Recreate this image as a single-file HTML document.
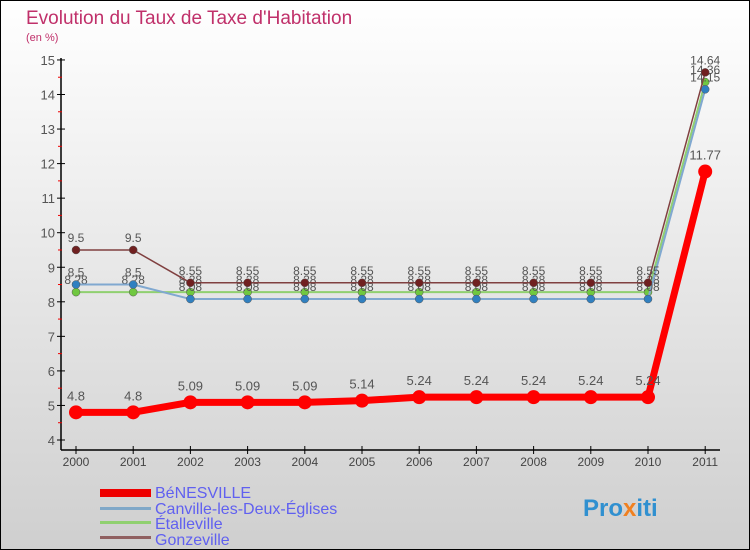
<!DOCTYPE html>
<html><head><meta charset="utf-8"><style>
body{margin:0;width:750px;height:550px;overflow:hidden}
svg{display:block;font-family:"Liberation Sans",sans-serif}
</style></head><body>
<svg id="c" width="750" height="550">
<defs><linearGradient id="bg" x1="0" y1="0" x2="0" y2="1"><stop offset="0" stop-color="#ffffff"/><stop offset="1" stop-color="#cfcfcf"/></linearGradient></defs>
<rect x="0.5" y="0.5" width="749" height="549" fill="url(#bg)" stroke="#000"/>
<text x="26" y="24" font-size="19" fill="#c0306a">Evolution du Taux de Taxe d'Habitation</text>
<text x="26" y="41" font-size="11" fill="#c0306a">(en %)</text>
<g id="axes"></g><g id="series"></g>
<g>
<rect x="100" y="489" width="51" height="8" fill="#e00"/>
<text x="155" y="498" font-size="16" fill="#6060f0">BéNESVILLE</text>
<rect x="100" y="507" width="51" height="3" fill="#80a8c8"/>
<text x="155" y="514" font-size="16" fill="#6060f0">Canville-les-Deux-Églises</text>
<rect x="100" y="521" width="51" height="3" fill="#90d070"/>
<text x="155" y="529" font-size="16" fill="#6060f0">Étalleville</text>
<rect x="100" y="536" width="51" height="3" fill="#906060"/>
<text x="155" y="545" font-size="16" fill="#6060f0">Gonzeville</text>
</g>
<text x="583" y="516" font-size="24" font-weight="bold" fill="#3090d0">Pro<tspan fill="#f08020">x</tspan>iti</text>
</svg>
<script>
const years=[2000,2001,2002,2003,2004,2005,2006,2007,2008,2009,2010,2011];
const yTicks=[4,5,6,7,8,9,10,11,12,13,14,15];
const benesville=[4.8,4.8,5.09,5.09,5.09,5.14,5.24,5.24,5.24,5.24,5.24,11.77];
const canville=[8.5,8.5,8.08,8.08,8.08,8.08,8.08,8.08,8.08,8.08,8.08,14.15];
const etalleville=[8.28,8.28,8.28,8.28,8.28,8.28,8.28,8.28,8.28,8.28,8.28,14.36];
const gonzeville=[9.5,9.5,8.55,8.55,8.55,8.55,8.55,8.55,8.55,8.55,8.55,14.64];
const NS="http://www.w3.org/2000/svg";
const X=i=>76+i*57.2, Y=v=>440-(v-4)*34.55;
function mk(t,a,p){const e=document.createElementNS(NS,t);for(const k in a)e.setAttribute(k,a[k]);p.appendChild(e);return e;}
const ax=document.getElementById('axes'),se=document.getElementById('series');
let l=mk('line',{x1:61,y1:58,x2:61,y2:450,stroke:'#000','stroke-width':1.5},ax);


l=mk('line',{x1:61,y1:450,x2:720,y2:450,stroke:'#000','stroke-width':1.5},ax);


yTicks.forEach(v=>{
 mk('line',{x1:57,y1:Y(v),x2:65,y2:Y(v),stroke:'#000'},ax);
 if(v<15)mk('line',{x1:58,y1:Y(v+0.5),x2:62,y2:Y(v+0.5),stroke:'#e00'},ax);
 const t=mk('text',{x:55,y:Y(v)+5,'font-size':13,fill:'#555','text-anchor':'end'},ax);t.textContent=v;
 
 
});
years.forEach((y,i)=>{
 mk('line',{x1:X(i),y1:446,x2:X(i),y2:454,stroke:'#000'},ax);
 const t=mk('text',{x:X(i),y:466,'font-size':12,fill:'#444','text-anchor':'middle'},ax);t.textContent=y;
 
 
});
function series(vals,col,dot,w,r,name,fs){
 const g=mk('g',{},se);
 
 
 mk('polyline',{points:vals.map((v,i)=>X(i)+','+Y(v)).join(' '),fill:'none',stroke:col,'stroke-width':w,'stroke-linejoin':'round'},g);
 vals.forEach((v,i)=>{
  const c=mk('circle',{cx:X(i),cy:Y(v),r:r,fill:dot,stroke:w>3?'none':'#555','stroke-width':0.5},g);
  
  
  const t=mk('text',{x:X(i),y:Y(v)-(w>3?12:8),'font-size':fs,fill:'#555','text-anchor':'middle'},g);t.textContent=v;
  
  
 });
}
series(etalleville,'#90d070','#70c840',2,4,'etalleville',12);
series(canville,'#80a8d0','#3080c0',2,4,'canville',12);
series(gonzeville,'#804040','#702020',1.5,4,'gonzeville',12);
series(benesville,'#f00','#f00',7,7,'benesville',13);
</script>
</body></html>
